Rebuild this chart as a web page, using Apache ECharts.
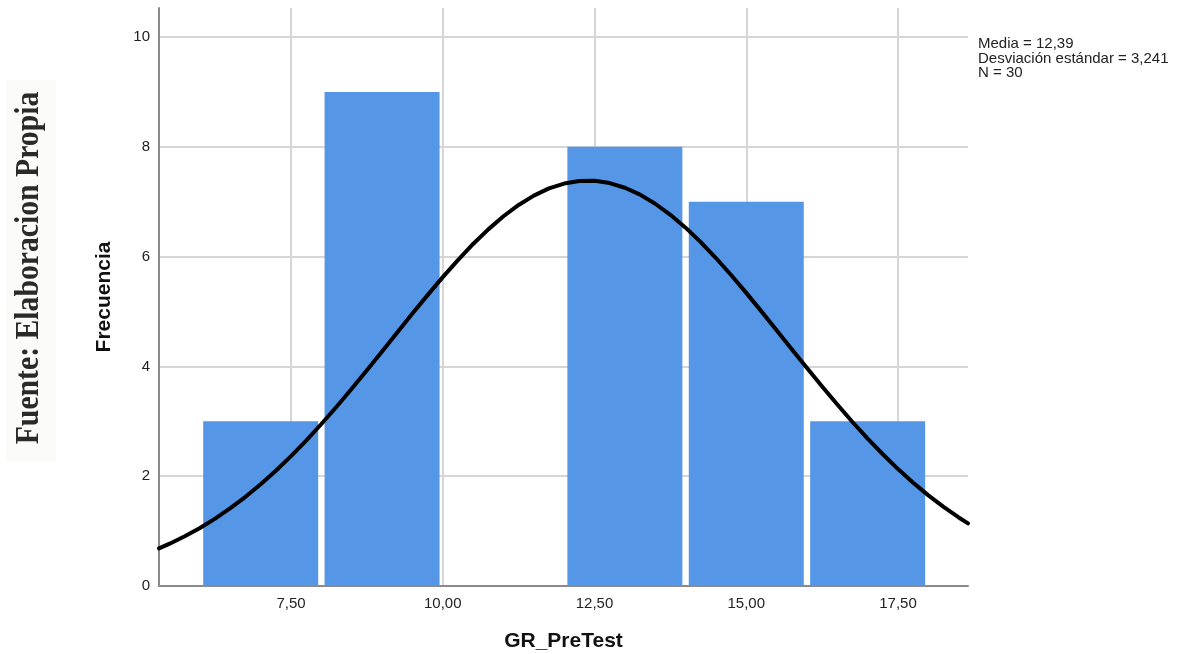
<!DOCTYPE html>
<html><head><meta charset="utf-8">
<script src="https://cdn.jsdelivr.net/npm/echarts@6/dist/echarts.min.js"></script>
<style>html,body{margin:0;padding:0;background:#fff}#c{width:1182px;height:654px}</style>
</head><body><div id="c"></div>
<script>
// ---- data ----
const binStarts = [6, 8, 10, 12, 14, 16];
const binWidth = 2;
const counts = [3, 9, 0, 8, 7, 3];
const curveX = [5.325, 5.5, 5.75, 6, 6.25, 6.5, 6.75, 7, 7.25, 7.5, 7.75, 8, 8.25, 8.5, 8.75, 9, 9.25, 9.5, 9.75, 10, 10.25, 10.5, 10.75, 11, 11.25, 11.5, 11.75, 12, 12.25, 12.5, 12.75, 13, 13.25, 13.5, 13.75, 14, 14.25, 14.5, 14.75, 15, 15.25, 15.5, 15.75, 16, 16.25, 16.5, 16.75, 17, 17.25, 17.5, 17.75, 18, 18.25, 18.5, 18.653];
const curveY = [0.686, 0.771, 0.906, 1.058, 1.227, 1.417, 1.625, 1.853, 2.100, 2.366, 2.650, 2.951, 3.266, 3.594, 3.930, 4.274, 4.619, 4.963, 5.299, 5.627, 5.938, 6.231, 6.497, 6.736, 6.942, 7.112, 7.243, 7.332, 7.378, 7.381, 7.340, 7.255, 7.130, 6.964, 6.762, 6.528, 6.264, 5.975, 5.665, 5.340, 5.003, 4.661, 4.315, 3.971, 3.633, 3.305, 2.988, 2.685, 2.400, 2.130, 1.881, 1.651, 1.440, 1.249, 1.141];
const xTicks = [7.5, 10, 12.5, 15, 17.5];
const yTicks = [0, 2, 4, 6, 8, 10];
const statsLines = ['Media = 12,39', 'Desviación estándar = 3,241', 'N = 30'];
const xName = 'GR_PreTest';
const yName = 'Frecuencia';
const sourceText = 'Fuente: Elaboracion Propia';

const histData = binStarts.map((s, i) => [s, s + binWidth, counts[i]]);
const curveData = curveX.map((x, i) => [x, curveY[i]]);

const chart = echarts.init(document.getElementById('c'), null, {renderer: 'canvas'});
const sans = '"Liberation Sans", Arial, sans-serif';
chart.setOption({
  animation: false,
  backgroundColor: '#ffffff',
  grid: {left: 159, right: 214, top: 8, bottom: 68, containLabel: false, outerBoundsMode: 'none'},
  xAxis: {
    type: 'value', min: 5.325, max: 18.653,
    name: xName, nameLocation: 'middle', nameGap: 45,
    nameTextStyle: {fontFamily: sans, fontWeight: 'bold', fontSize: 21, color: '#111'},
    axisLine: {show: true, onZero: false, lineStyle: {color: '#8a8a8a', width: 2}},
    axisTick: {show: false, customValues: xTicks},
    axisLabel: {customValues: xTicks, fontFamily: sans, fontSize: 15, color: '#222', margin: 10,
      formatter: v => v.toFixed(2).replace('.', ',')},
    splitLine: {show: true, lineStyle: {color: '#d6d6d6', width: 2}}
  },
  yAxis: {
    type: 'value', min: 0, max: 10.53,
    name: yName, nameLocation: 'middle', nameGap: 44,
    nameTextStyle: {fontFamily: sans, fontWeight: 'bold', fontSize: 21, color: '#111'},
    axisLine: {show: true, lineStyle: {color: '#8a8a8a', width: 2}},
    axisTick: {show: false, customValues: yTicks},
    axisLabel: {customValues: yTicks, fontFamily: sans, fontSize: 15, color: '#222', margin: 9},
    splitLine: {show: true, lineStyle: {color: '#d6d6d6', width: 2}}
  },
  series: [
    {
      type: 'custom',
      data: histData,
      encode: {x: [0, 1], y: 2},
      z: 2,
      renderItem: function (params, api) {
        const lo = api.value(0), hi = api.value(1), c = api.value(2);
        if (!c) return null;
        const p0 = api.coord([lo, c]);
        const p1 = api.coord([hi, 0]);
        const inset = 3.2;
        return {
          type: 'rect',
          shape: {x: p0[0] + inset, y: p0[1], width: p1[0] - p0[0] - 2 * inset, height: p1[1] - p0[1]},
          style: {fill: '#5596e6'}
        };
      }
    },
    {
      type: 'line',
      data: curveData,
      smooth: false,
      showSymbol: false,
      z: 5,
      lineStyle: {color: '#000', width: 4, join: 'round', cap: 'round'}
    }
  ],
  graphic: [
    {type: 'rect', shape: {x: 6, y: 80, width: 50, height: 382}, style: {fill: '#fbfbf9'}, z: 0},
    {type: 'text', x: 29, y: 268, rotation: Math.PI / 2, scaleX: 0.9, z: 1,
      style: {text: sourceText, font: 'bold 33px "Liberation Serif", "DejaVu Serif", serif', fill: '#2a2a2a', align: 'center', verticalAlign: 'middle'}},
    {type: 'text', x: 978, y: 37, z: 1,
      style: {text: statsLines.join('\n'), font: '15px ' + sans, lineHeight: 14.5, fill: '#222', align: 'left', verticalAlign: 'top'}}
  ]
});
</script>
</body></html>
